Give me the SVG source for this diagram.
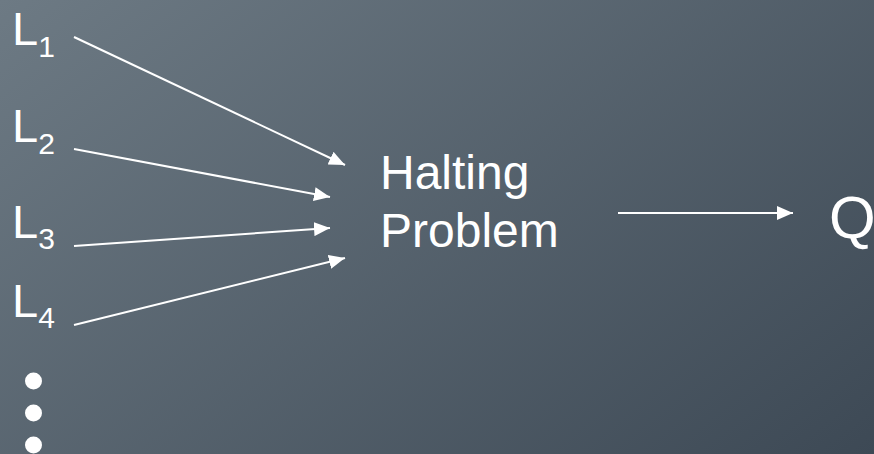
<svg xmlns="http://www.w3.org/2000/svg" width="874" height="454" viewBox="0 0 874 454">
  <defs>
    <linearGradient id="bg" gradientUnits="userSpaceOnUse" x1="0" y1="0" x2="551" y2="706">
      <stop offset="0" stop-color="#6d7a84"/>
      <stop offset="1" stop-color="#3d4955"/>
    </linearGradient>
    <marker id="ah" markerUnits="userSpaceOnUse" markerWidth="17" markerHeight="14" refX="16" refY="7" orient="auto">
      <path d="M0,0 L16,7 L0,14 Z" fill="#ffffff"/>
    </marker>
    <style>
      text { font-family: "Liberation Sans", Arial, sans-serif; fill: #ffffff; }
      .lbl { font-size: 47px; }
      .big { font-size: 48px; }
      .sub { font-size: 30px; }
      .conn { stroke: #ffffff; stroke-width: 2; fill: none; marker-end: url(#ah); }
      .dot { fill: #ffffff; }
    </style>
  </defs>
  <rect x="0" y="0" width="874" height="454" fill="url(#bg)"/>

  <g id="L1"><text class="lbl" x="12" y="45">L<tspan class="sub" dy="12">1</tspan></text></g>
  <g id="L2"><text class="lbl" x="12" y="142">L<tspan class="sub" dy="12">2</tspan></text></g>
  <g id="L3"><text class="lbl" x="12" y="238">L<tspan class="sub" dy="11">3</tspan></text></g>
  <g id="L4"><text class="lbl" x="12" y="317">L<tspan class="sub" dy="11">4</tspan></text></g>

  <g id="dots">
    <circle class="dot" cx="33.5" cy="381" r="8.5"/>
    <circle class="dot" cx="33.5" cy="413" r="8.5"/>
    <circle class="dot" cx="33.5" cy="445" r="8.5"/>
  </g>

  <g id="halting">
    <text class="big" x="380" y="189">Halting</text>
    <text class="big" x="380" y="247">Problem</text>
  </g>

  <g id="Q"><text x="829" y="238" font-size="60">Q</text></g>

  <g id="connectors">
    <line class="conn" x1="74" y1="37" x2="345" y2="165"/>
    <line class="conn" x1="74" y1="149" x2="330" y2="197"/>
    <line class="conn" x1="74" y1="246" x2="330" y2="228"/>
    <line class="conn" x1="74" y1="325" x2="345" y2="258"/>
    <line class="conn" x1="618" y1="213" x2="793" y2="213"/>
  </g>
</svg>
